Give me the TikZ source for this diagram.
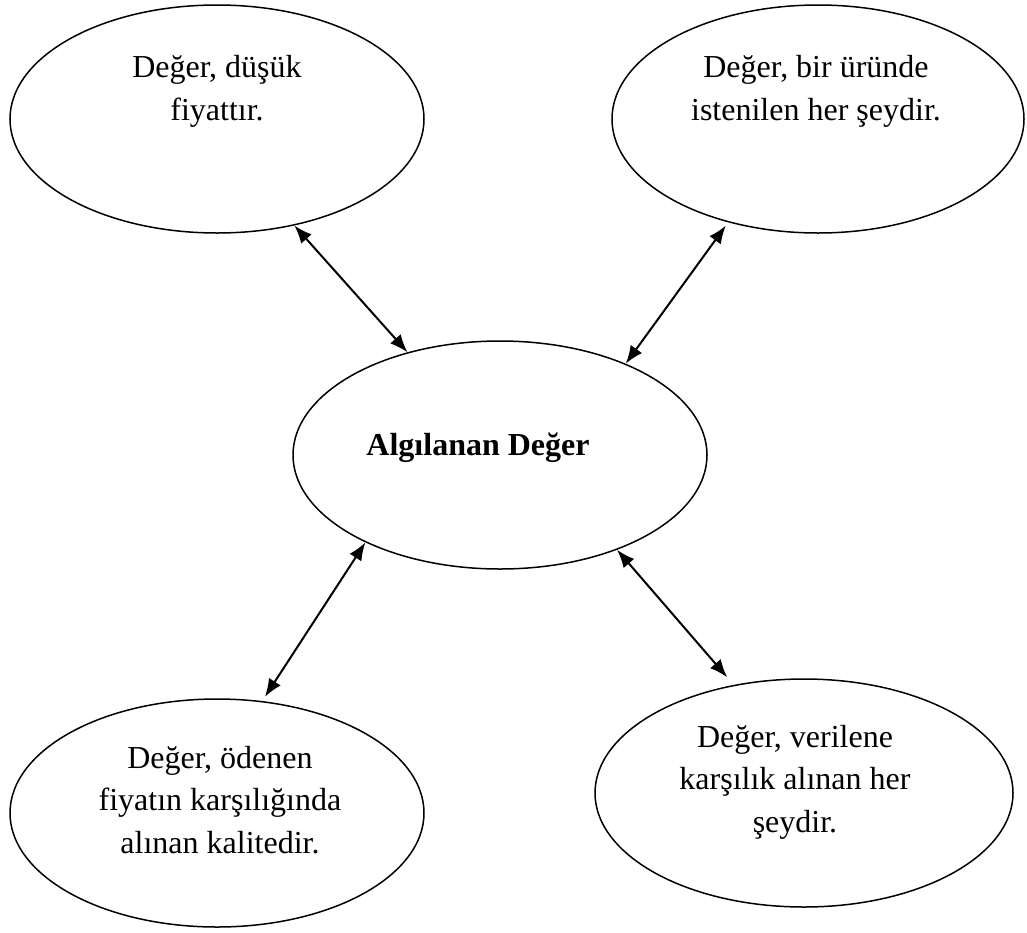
\documentclass[tikz,border=0pt]{standalone}
\usepackage{fontspec}
\setmainfont{Liberation Serif}
\usetikzlibrary{shapes.geometric,arrows.meta}
\begin{document}
\begin{tikzpicture}[x=1pt,y=-1pt,
  bubble/.style={ellipse,draw=black,line width=1.5pt,minimum width=414pt,minimum height=228pt,inner sep=0pt},
  caption/.style={align=center,font=\fontsize{32}{42.5}\selectfont,inner sep=0pt,anchor=base},
  link/.style={line width=2pt,{Latex[length=18pt,width=14pt]}-{Latex[length=18pt,width=14pt]}}]
\useasboundingbox (0,0) rectangle (1027,932);
% ellipses
\node[bubble] (tl) at (217,119) {};
\node[bubble,minimum width=412pt] (tr) at (818,119) {};
\node[bubble] (c) at (500,455) {};
\node[bubble] (bl) at (217,813) {};
\node[bubble,minimum width=418pt] (br) at (804,793) {};
% texts (anchored at the baseline of the last line)
\node[caption] (tlt) at (217,120) {Değer, düşük\\fiyattır.};
\node[caption] (trt) at (816,120) {Değer, bir üründe\\istenilen her şeydir.};
\node[caption,font=\fontsize{32}{42.5}\selectfont\bfseries] (ct) at (478,455) {Algılanan Değer};
\node[caption] (blt) at (220,853) {Değer, ödenen\\fiyatın karşılığında\\alınan kalitedir.};
\node[caption] (brt) at (795,832) {Değer, verilene\\karşılık alınan her\\şeydir.};
% connectors
\draw[link] (tl.-54) -- (c.132);
\draw[link,shorten <=4pt] (tr.-131.5) -- (c.36);
\draw[link,shorten >=5pt] (c.-147) -- (bl.68);
\draw[link,shorten >=10pt] (c.-39) -- (br.123);
\end{tikzpicture}
\end{document}
